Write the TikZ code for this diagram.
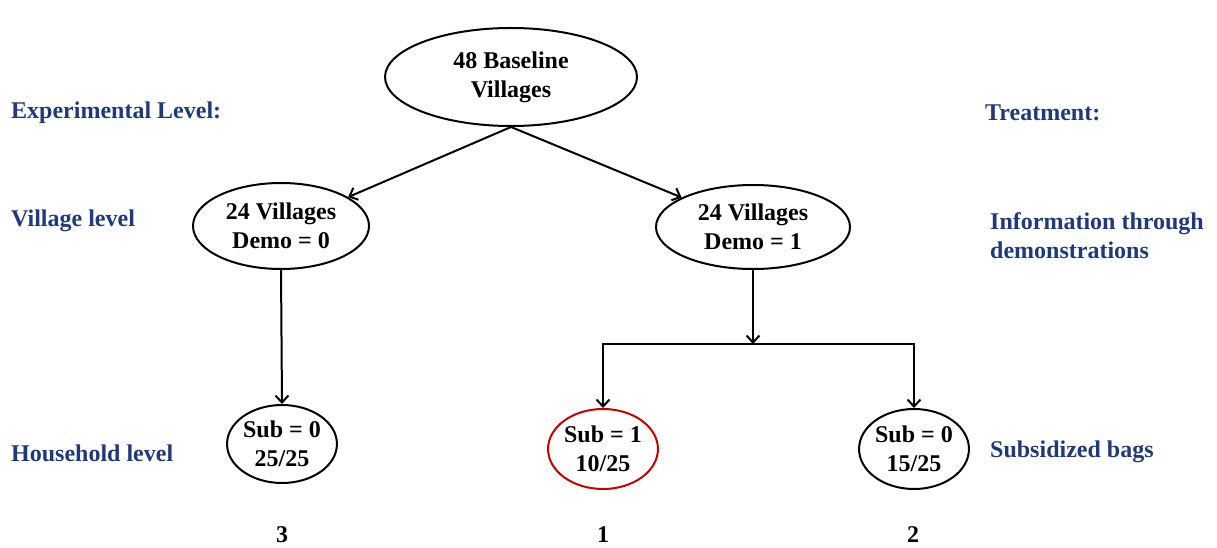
\documentclass[tikz,border=0pt]{standalone}
\usepackage{fontspec}
\setmainfont{Liberation Serif}
\usepackage{tikz}
\usetikzlibrary{shapes.geometric,arrows.meta}
\definecolor{navy}{HTML}{1F3A78}
\definecolor{darkred}{HTML}{C00000}
\tikzset{
 v/.style
  = {ellipse, draw, line width=2pt, inner sep=0pt, align=center,
     font=\fontsize{24}{29}\selectfont\bfseries},
 t/.style
  = {anchor=west, align=left, text=navy, inner sep=0pt,
     font=\fontsize{24}{29}\selectfont\bfseries},
 n/.style
  = {inner sep=0pt, font=\fontsize{24}{29}\selectfont\bfseries},
 l/.style
  = {draw, line width=2pt, -{Straight Barb[length=7pt,width=13pt]}},
}
\begin{document}
\begin{tikzpicture}[x=1pt,y=-1pt]
\useasboundingbox (0,0) rectangle (1217,548);

% Villages
\node[v, minimum width=252pt, minimum height=98pt] (base) at (511,77) {48 Baseline\\Villages};
\node[v, minimum width=176pt, minimum height=86pt] (demo0) at (281,226) {24 Villages\\Demo = 0};
\node[v, minimum width=194pt, minimum height=84pt] (demo1) at (753,227) {24 Villages\\Demo = 1};

% Households
\node[v, minimum width=106pt, minimum height=78pt] (sub3) at (282,444) {Sub = 0\\25/25};
\node[v, draw=darkred, minimum width=107pt, minimum height=80pt] (sub1) at (603,449) {Sub = 1\\10/25};
\node[v, minimum width=106pt, minimum height=80pt] (sub2) at (914,449) {Sub = 0\\15/25};

% Group numbers
\node[n] (g3) at (282,535) {3};
\node[n] (g1) at (603,535) {1};
\node[n] (g2) at (913,535) {2};

% Levels
\node[t] (lev) at (11,113) {Experimental Level:};
\node[t] (levv) at (11,221) {Village level};
\node[t] (levh) at (11,453) {Household level};

% Treatments
\node[t] (trt) at (985,113) {Treatment:};
\node[t] (trtd) at (990,236) {Information through\\demonstrations};
\node[t] (trts) at (990,452) {Subsidized bags};

% Arrows
\coordinate (bar) at (753,344);
\draw[l] (base.south) -- (demo0);
\draw[l] (base.south) -- (demo1);
\draw[l] (demo0.south) -- (sub3.north);
\draw[l] (demo1.south) -- (bar);
\draw[l, {Straight Barb[length=7pt,width=13pt]}-{Straight Barb[length=7pt,width=13pt]}] (sub1.north) |- (bar) -| (sub2.north);

\end{tikzpicture}
\end{document}
